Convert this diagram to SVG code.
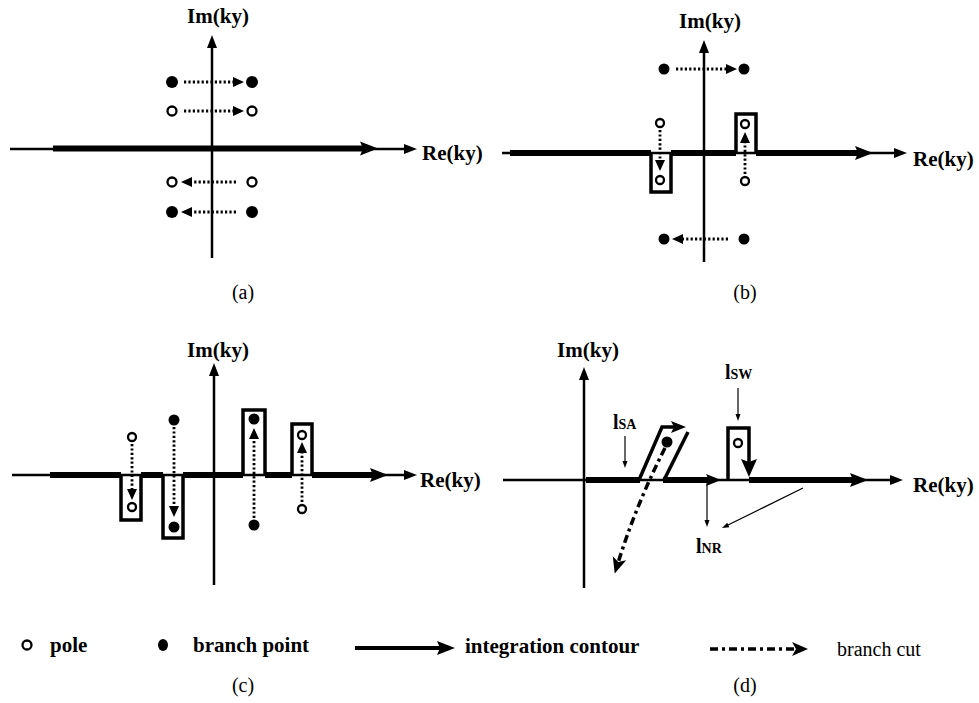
<svg xmlns="http://www.w3.org/2000/svg" width="979" height="703" viewBox="0 0 979 703">
<style>
.t{font-family:"Liberation Serif","Times New Roman",serif;font-weight:bold;font-size:21px;fill:#000}
.cap{font-family:"Liberation Serif","Times New Roman",serif;font-size:20px;fill:#000}
.lab{font-family:"Liberation Serif","Times New Roman",serif;font-weight:bold;fill:#000}
.ax{stroke:#000;stroke-width:2.5;fill:none}
.ct{stroke:#000;stroke-width:6;fill:none}
.bx{stroke:#000;stroke-width:3.5;fill:none;stroke-linejoin:miter}
.dt{stroke:#000;stroke-width:2.8;fill:none;stroke-dasharray:2.2 2.2}
.an{stroke:#000;stroke-width:1.2;fill:none}
.cut{stroke:#000;stroke-width:3.5;fill:none;stroke-dasharray:8 4 3 4}
.pf{fill:#000}
.ph{fill:#fff;stroke:#000;stroke-width:2.3}
</style>
<defs>
<marker id="mThick" markerUnits="userSpaceOnUse" markerWidth="18" markerHeight="14" refX="4" refY="7" orient="auto" overflow="visible"><path d="M0,0 L18,7 L0,14 L3,7 z" fill="#000"/></marker>
<marker id="mMed" markerUnits="userSpaceOnUse" markerWidth="15" markerHeight="12" refX="4" refY="6" orient="auto" overflow="visible"><path d="M0,0 L15,6 L0,12 L3,6 z" fill="#000"/></marker>
<marker id="mThin" markerUnits="userSpaceOnUse" markerWidth="13" markerHeight="10" refX="3" refY="5" orient="auto" overflow="visible"><path d="M0,0 L13,5 L0,10 z" fill="#000"/></marker>
<marker id="mDot" markerUnits="userSpaceOnUse" markerWidth="11" markerHeight="10" refX="2" refY="5" orient="auto" overflow="visible"><path d="M0,0 L11,5 L0,10 z" fill="#000"/></marker>
<marker id="mSmall" markerUnits="userSpaceOnUse" markerWidth="7" markerHeight="5" refX="2" refY="2.5" orient="auto" overflow="visible"><path d="M0,0 L7,2.5 L0,5 z" fill="#000"/></marker>
<marker id="mCut" markerUnits="userSpaceOnUse" markerWidth="16" markerHeight="14" refX="5" refY="7" orient="auto" overflow="visible"><path d="M0,0 L16,7 L0,14 L4,7 z" fill="#000"/></marker>
<marker id="mBig" markerUnits="userSpaceOnUse" markerWidth="18" markerHeight="16" refX="4" refY="8" orient="auto" overflow="visible"><path d="M0,0 L18,8 L0,16 L3,8 z" fill="#000"/></marker>
</defs>

<!-- Panel (a) -->
<g id="panel-a">
<line class="ax" x1="212" y1="258" x2="212" y2="45" marker-end="url(#mThin)"/>
<line class="ax" x1="10" y1="149" x2="407" y2="149" marker-end="url(#mThin)"/>
<text class="t" x="218" y="23" text-anchor="middle">Im(ky)</text>
<text class="t" x="422" y="160">Re(ky)</text>
<text class="cap" x="243" y="299" text-anchor="middle">(a)</text>
<g id="a-b1"><circle class="pf" cx="172" cy="82" r="6"/></g>
<g id="a-b2"><circle class="pf" cx="252" cy="82" r="6"/></g>
<g id="a-p1"><circle class="ph" cx="172" cy="111" r="4.5"/></g>
<g id="a-p2"><circle class="ph" cx="252" cy="111" r="4.5"/></g>
<g id="a-p3"><circle class="ph" cx="172" cy="182" r="4.5"/></g>
<g id="a-p4"><circle class="ph" cx="252" cy="182" r="4.5"/></g>
<g id="a-b3"><circle class="pf" cx="172" cy="212" r="6"/></g>
<g id="a-b4"><circle class="pf" cx="252" cy="212" r="6"/></g>
</g>

<!-- Panel (b) -->
<g id="panel-b">
<line class="ax" x1="704" y1="262" x2="704" y2="50" marker-end="url(#mThin)"/>
<line class="ax" x1="502" y1="153" x2="897" y2="153" marker-end="url(#mThin)"/>
<text class="t" x="710" y="28" text-anchor="middle">Im(ky)</text>
<text class="t" x="913" y="166">Re(ky)</text>
<text class="cap" x="745" y="299" text-anchor="middle">(b)</text>
<g id="b-b1"><circle class="pf" cx="664" cy="69" r="5.5"/></g>
<g id="b-b2"><circle class="pf" cx="744" cy="69" r="5.5"/></g>
<g id="b-b3"><circle class="pf" cx="664" cy="239" r="5.5"/></g>
<g id="b-b4"><circle class="pf" cx="744" cy="239" r="5.5"/></g>
<g id="b-p1"><circle class="ph" cx="660" cy="123" r="4"/></g>
<g id="b-p2"><circle class="ph" cx="660" cy="180" r="4"/></g>
<g id="b-p3"><circle class="ph" cx="745" cy="124" r="4"/></g>
<g id="b-p4"><circle class="ph" cx="745" cy="181" r="4"/></g>
</g>

<!-- Panel (c) -->
<g id="panel-c">
<line class="ax" x1="214" y1="585" x2="214" y2="373" marker-end="url(#mThin)"/>
<line class="ax" x1="12" y1="475" x2="407" y2="475" marker-end="url(#mThin)"/>
<text class="t" x="218" y="357" text-anchor="middle">Im(ky)</text>
<text class="t" x="420" y="487">Re(ky)</text>
<g id="c-p1"><circle class="ph" cx="132" cy="437" r="4"/></g>
<g id="c-p2"><circle class="ph" cx="132" cy="507" r="4"/></g>
<g id="c-b1"><circle class="pf" cx="174" cy="420" r="5.5"/></g>
<g id="c-b2"><circle class="pf" cx="174" cy="527" r="5.5"/></g>
<g id="c-b3"><circle class="pf" cx="254" cy="419" r="5.5"/></g>
<g id="c-b4"><circle class="pf" cx="254" cy="525" r="5.5"/></g>
<g id="c-p3"><circle class="ph" cx="302" cy="435" r="4"/></g>
<g id="c-p4"><circle class="ph" cx="302" cy="509" r="4"/></g>
</g>

<!-- Panel (d) -->
<g id="panel-d">
<line class="ax" x1="584" y1="588" x2="584" y2="377" marker-end="url(#mThin)"/>
<line class="ax" x1="503" y1="480" x2="893" y2="480" marker-end="url(#mThin)"/>
<text class="t" x="588" y="357" text-anchor="middle">Im(ky)</text>
<text class="t" x="913" y="492">Re(ky)</text>
<g id="d-b1"><circle class="pf" cx="667" cy="442" r="5.5"/></g>
<g id="d-p1"><circle class="ph" cx="738" cy="443" r="4"/></g>
<g id="d-lsa"><text class="lab" x="613" y="429" font-size="20">l<tspan font-size="14">SA</tspan></text></g>
<g id="d-lsw"><text class="lab" x="725" y="379" font-size="20">l<tspan font-size="14">SW</tspan></text></g>
<g id="d-lnr"><text class="lab" x="696" y="553" font-size="20">l<tspan font-size="14">NR</tspan></text></g>
</g>

<!-- Legend -->
<g id="legend">
<g id="leg-pole"><circle class="ph" cx="27" cy="645" r="4.5"/><text class="t" x="50" y="652">pole</text></g>
<g id="leg-branch"><ellipse class="pf" cx="163" cy="645" rx="5" ry="6"/><text class="t" x="193" y="652">branch point</text></g>
<g id="leg-contour"><line stroke="#000" stroke-width="4" x1="355" y1="648" x2="441" y2="648" marker-end="url(#mThick)"/><text class="t" x="465" y="653">integration contour</text></g>
<g id="leg-cut"><line class="cut" x1="710" y1="649" x2="797" y2="649" marker-end="url(#mCut)"/><text class="cap" x="837" y="656">branch cut</text></g>
<text class="cap" x="243" y="692" text-anchor="middle">(c)</text>
<text class="cap" x="745" y="692" text-anchor="middle">(d)</text>
</g>

<g id="connectors">
<!-- (a) contour and motions -->
<line class="ct" x1="53" y1="148.5" x2="364" y2="148.5" marker-end="url(#mThick)"/>
<line class="dt" x1="184" y1="82" x2="235" y2="82" marker-end="url(#mDot)"/>
<line class="dt" x1="184" y1="111" x2="235" y2="111" marker-end="url(#mDot)"/>
<line class="dt" x1="236" y1="182" x2="190" y2="182" marker-end="url(#mDot)"/>
<line class="dt" x1="236" y1="212" x2="190" y2="212" marker-end="url(#mDot)"/>
<!-- (b) -->
<line class="ct" x1="510" y1="153" x2="651" y2="153"/>
<line class="ct" x1="671" y1="153" x2="736" y2="153"/>
<line class="ct" x1="756" y1="153" x2="859" y2="153" marker-end="url(#mThick)"/>
<path class="bx" d="M651,153 V192 H671 V153"/>
<path class="bx" d="M736,153 V114 H756 V153"/>
<line class="dt" x1="676" y1="69" x2="728" y2="69" marker-end="url(#mDot)"/>
<line class="dt" x1="728" y1="239" x2="681" y2="239" marker-end="url(#mDot)"/>
<line class="dt" x1="660" y1="130" x2="660" y2="162" marker-end="url(#mDot)"/>
<line class="dt" x1="745" y1="174" x2="745" y2="141" marker-end="url(#mDot)"/>
<!-- (c) -->
<line class="ct" x1="50" y1="475" x2="121" y2="475"/>
<line class="ct" x1="141" y1="475" x2="163" y2="475"/>
<line class="ct" x1="183" y1="475" x2="243" y2="475"/>
<line class="ct" x1="265" y1="475" x2="292" y2="475"/>
<line class="ct" x1="312" y1="475" x2="374" y2="475" marker-end="url(#mThick)"/>
<path class="bx" d="M121,475 V520 H141 V475"/>
<path class="bx" d="M163,475 V538 H183 V475"/>
<path class="bx" d="M243,475 V410 H265 V475"/>
<path class="bx" d="M292,475 V424 H312 V475"/>
<line class="dt" x1="132" y1="444" x2="132" y2="491" marker-end="url(#mDot)"/>
<line class="dt" x1="174" y1="427" x2="174" y2="508" marker-end="url(#mDot)"/>
<line class="dt" x1="254" y1="518" x2="254" y2="437" marker-end="url(#mDot)"/>
<line class="dt" x1="302" y1="502" x2="302" y2="451" marker-end="url(#mDot)"/>
<!-- (d) -->
<line class="ct" x1="586" y1="480" x2="640" y2="480" stroke-width="5"/>
<path class="bx" d="M639,480 L662,427 H675" marker-end="url(#mMed)"/>
<path class="bx" d="M688,432 L664,480"/>
<line class="ct" x1="663" y1="480" x2="710" y2="480" stroke-width="5" marker-end="url(#mMed)"/>
<path class="bx" d="M728,480 V428 H749 V463" marker-end="url(#mBig)"/>
<line class="ct" x1="749" y1="480" x2="854" y2="480" stroke-width="5" marker-end="url(#mThick)"/>
<path class="cut" d="M665,448 Q636,505 618,563" marker-end="url(#mCut)"/>
<line class="an" x1="625" y1="436" x2="625" y2="463" marker-end="url(#mSmall)"/>
<line class="an" x1="738" y1="388" x2="738" y2="416" marker-end="url(#mSmall)"/>
<line class="an" x1="707" y1="483" x2="707" y2="522" marker-end="url(#mSmall)"/>
<line class="an" x1="803" y1="488" x2="726.5" y2="525.8" marker-end="url(#mSmall)"/>
</g>
</svg>
